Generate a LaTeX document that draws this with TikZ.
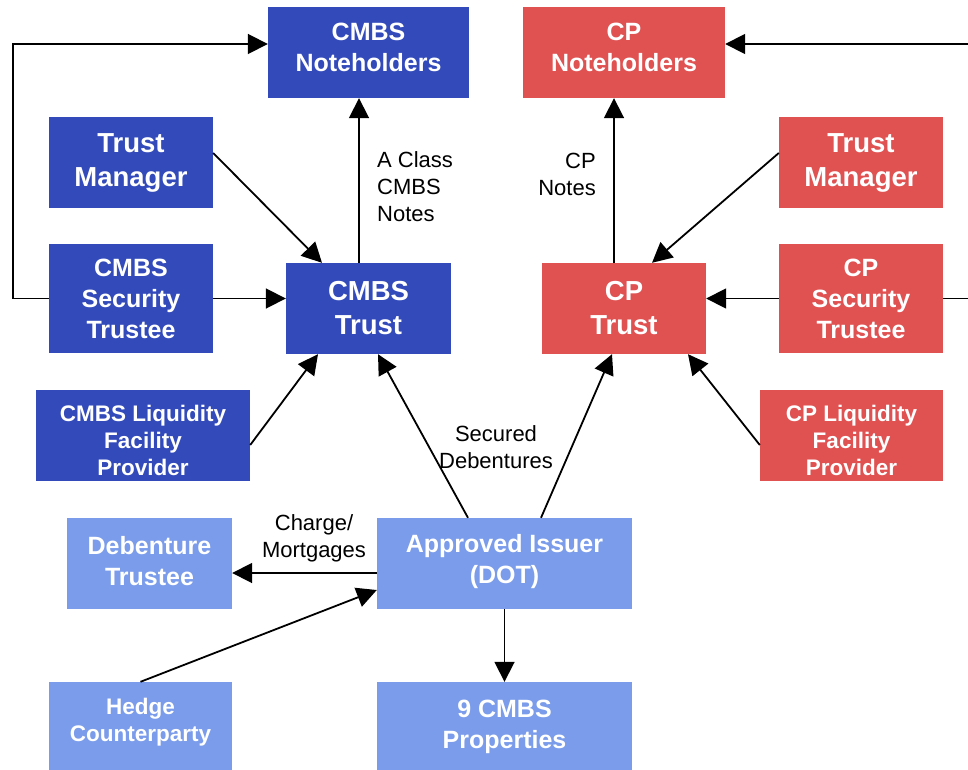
\documentclass[tikz,border=0pt]{standalone}
\usepackage{fontspec}
\setmainfont{Liberation Sans}
\usetikzlibrary{arrows.meta}

\definecolor{cmbsblue}{RGB}{50,74,186}
\definecolor{cpred}{RGB}{224,81,82}
\definecolor{dotblue}{RGB}{122,156,234}

\tikzset{
  boxtext/.style={minimum height=91pt, inner sep=0pt, align=center, text=white,
    font=\bfseries\fontsize{25}{31}\selectfont},
  bigtext/.style={font=\bfseries\fontsize{27.5}{34}\selectfont},
  smalltext/.style={font=\bfseries\fontsize{22.5}{27}\selectfont},
  lift/.style={text depth=#1},
  cmbsbox/.style={boxtext, fill=cmbsblue},
  cpbox/.style={boxtext, fill=cpred},
  dotbox/.style={boxtext, fill=dotblue},
  flow/.style={-{Triangle[length=20pt,width=20pt]}, line width=1.8pt},
  flowlabel/.style={inner sep=0pt, font=\fontsize{22}{27}\selectfont}
}

\begin{document}
\begin{tikzpicture}[x=1pt,y=-1pt]
  \clip (0,0) rectangle (968,770);

  % CMBS side
  \node[cmbsbox, lift=10pt, minimum width=201pt] (cmbsnote) at (368.5,52.5) {CMBS\\Noteholders};
  \node[cmbsbox, bigtext, minimum width=164pt] (cmbsmgr) at (131,162.5) {Trust\\Manager};
  \node[cmbsbox, minimum width=164pt, minimum height=109pt] (cmbssec) at (131,298.5) {CMBS\\Security\\Trustee};
  \node[cmbsbox, bigtext, minimum width=165pt] (cmbstrust) at (368.5,308.5) {CMBS\\Trust};
  \node[cmbsbox, smalltext, text height=80pt, minimum width=214pt] (cmbsliq) at (143,435.5) {CMBS Liquidity\\Facility\\Provider};

  % CP side
  \node[cpbox, lift=10pt, minimum width=202pt] (cpnote) at (624,52.5) {CP\\Noteholders};
  \node[cpbox, bigtext, minimum width=164pt] (cpmgr) at (861,162.5) {Trust\\Manager};
  \node[cpbox, minimum width=164pt, minimum height=109pt] (cpsec) at (861,298.5) {CP\\Security\\Trustee};
  \node[cpbox, bigtext, minimum width=164pt] (cptrust) at (624,308.5) {CP\\Trust};
  \node[cpbox, smalltext, text height=80pt, minimum width=183pt] (cpliq) at (851.5,435.5) {CP Liquidity\\Facility\\Provider};

  % issuer level
  \node[dotbox, lift=6pt, minimum width=165pt] (debtrustee) at (149.5,563.5) {Debenture\\Trustee};
  \node[dotbox, lift=9pt, minimum width=255pt] (issuer) at (504.5,563.5) {Approved Issuer\\(DOT)};
  \node[dotbox, smalltext, lift=15pt, minimum width=183pt] (hedge) at (140.5,727.5) {Hedge\\Counterparty};
  \node[dotbox, lift=6pt, minimum width=255pt] (props) at (504.5,727.5) {9 CMBS\\Properties};

  \coordinate (leftloop) at (13,44);
  \coordinate (rightloop) at (990,44);

  \draw[flow] (cmbssec.west) -| (leftloop) -- ([yshift=8.5pt]cmbsnote.west);
  \draw[flow] (cpsec.east) -| (rightloop) -- ([yshift=8.5pt]cpnote.east);

  \draw[flow] ([yshift=9.5pt]cmbsmgr.east) -- ([xshift=-46.5pt]cmbstrust.north);
  \draw[flow] (cmbssec.east) -- (cmbssec.east -| cmbstrust.west);
  \draw[flow] ([yshift=-9.5pt]cmbsliq.east) -- ([xshift=-50.5pt]cmbstrust.south);
  \draw[flow] ([xshift=-9.5pt]cmbstrust.north) -- ([xshift=-9.5pt]cmbsnote.south);
  \node[flowlabel, anchor=west, align=left] (lblcmbsnotes) at (377,187) {A Class\\CMBS\\Notes};

  \draw[flow] ([yshift=9.5pt]cpmgr.west) -- ([xshift=28pt]cptrust.north);
  \draw[flow] (cpsec.west) -- (cpsec.west -| cptrust.east);
  \draw[flow] ([yshift=-9.5pt]cpliq.west) -- ([xshift=64pt]cptrust.south);
  \draw[flow] ([xshift=-10pt]cptrust.north) -- ([xshift=-10pt]cpnote.south);
  \node[flowlabel, anchor=east, align=right] (lblcpnotes) at (596,174) {CP\\Notes};

  \draw[flow] ([xshift=-36.5pt]issuer.north) -- ([xshift=9.5pt]cmbstrust.south);
  \draw[flow] ([xshift=36.5pt]issuer.north) -- ([xshift=-12pt]cptrust.south);
  \node[flowlabel, align=center] (lbldebentures) at (496,447) {Secured\\Debentures};

  \draw[flow] ([yshift=-9.5pt]issuer.west) -- ([yshift=-9.5pt]debtrustee.east);
  \node[flowlabel, align=center] (lblcharge) at (314,538) {Charge/\\Mortgages};
  \draw[flow] (hedge.north) -- ([yshift=-26.5pt]issuer.west);
  \draw[flow] (issuer.south) -- (props.north);
\end{tikzpicture}
\end{document}
